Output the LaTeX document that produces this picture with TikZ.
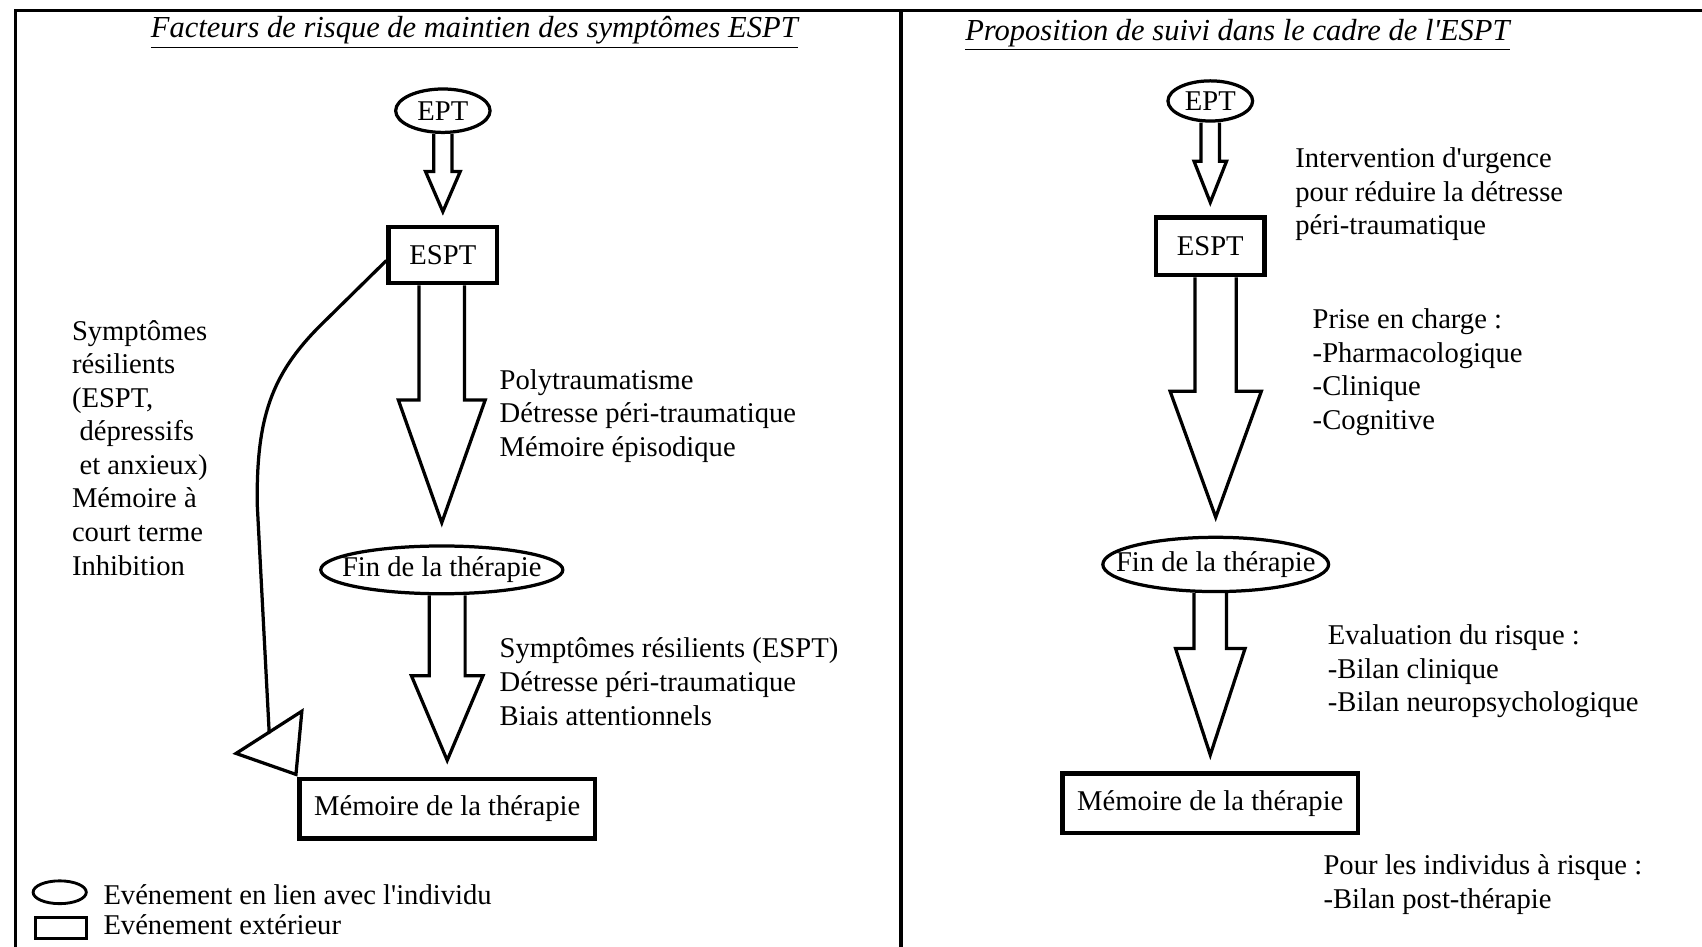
\documentclass[tikz,border=0pt]{standalone}
\usepackage{fontspec}
\setmainfont{Liberation Serif}
\usetikzlibrary{arrows.meta, positioning, shapes.geometric, calc}

% hollow block arrow: source, tip, shaft half width, head half width, head length
\newcommand{\blockarrow}[5]{%
	\draw[blockline] let \p1=(#1), \p2=(#2) in
		(\x2-#3,\y1) -- (\x2-#3,\y2+#5) -- (\x2-#4,\y2+#5) -- (\x2,\y2)
		-- (\x2+#4,\y2+#5) -- (\x2+#3,\y2+#5) -- (\x2+#3,\y1);
}

\begin{document}
\begin{tikzpicture}[
				font=\fontsize{15}{17.6}\selectfont,
				event/.style={ellipse, draw, line width=1.7pt, inner sep=-1cm},
				outerbox/.style={rectangle, draw, line width=2.3pt, inner sep=0pt},
				blockline/.style={line width=1.7pt, line join=miter},
				feedback/.style={line width=1.7pt, line join=round},
				frameline/.style={line width=1.7pt},
				factor/.style={anchor=west, align=left, inner sep=0pt},
				heading/.style={font=\fontsize{16}{19}\selectfont\itshape, inner sep=0pt}
			]
			\useasboundingbox (0,0) rectangle (31.36,-17.44);

			% Frame
			\draw[frameline] (0.28,-17.44) |- (31.36,-0.2);
			\draw[frameline] (16.6,-0.2) -- (16.6,-17.44);

			% Left panel
			\node[heading] (titleL) at (8.74,-0.6) {\underline{Facteurs de risque de maintien des symptômes ESPT}};

			\node[event, minimum width=1.74cm, minimum height=0.8cm] (eptL) at (8.16,-2.04) {EPT};
			\node[outerbox, minimum width=2.0cm, minimum height=1.04cm] (esptL) at (8.16,-4.7) {ESPT};
			\node[event, minimum width=4.46cm, minimum height=0.88cm] (finL) at (8.14,-10.5) {Fin de la thérapie};
			\node[outerbox, minimum width=5.44cm, minimum height=1.1cm] (memL) at (8.24,-14.9) {Mémoire de la thérapie};

			\blockarrow{eptL.south}{[yshift=0.24cm]esptL.north}{0.17cm}{0.32cm}{0.74cm}
			\blockarrow{esptL.south}{[yshift=0.4cm]finL.north}{0.42cm}{0.8cm}{2.26cm}
			\blockarrow{finL.south}{[yshift=0.3cm]memL.north}{0.33cm}{0.66cm}{1.56cm}

			\draw[feedback, -{Triangle[open, length=1.0cm, width=1.55cm]}]
				([yshift=-0.1cm]esptL.west) -- (5.9,-6.0)
				.. controls (5.0,-6.9) and (4.72,-7.7) .. (4.74,-9.3)
				-- (4.96,-13.5) -- (memL.north west);

			\node[factor] (riskA) at (9.2,-7.66) {Polytraumatisme\\Détresse péri-traumatique\\Mémoire épisodique};
			\node[factor] (riskB) at (9.2,-12.56) {Symptômes résilients (ESPT)\\Détresse péri-traumatique\\Biais attentionnels};
			\node[factor] (riskC) at (1.32,-8.25) {Symptômes\\résilients\\(ESPT,\\\hspace*{4pt}dépressifs\\\hspace*{4pt}et anxieux)\\Mémoire à\\court terme\\Inhibition};

			% Legend
			\node[event, line width=1.5pt, minimum width=0.98cm, minimum height=0.42cm] (keyEvent) at (1.1,-16.44) {};
			\node[outerbox, line width=1.8pt, minimum width=0.94cm, minimum height=0.38cm] (keyExt) at (1.12,-17.1) {};
			\node[factor] at (1.9,-16.48) {Evénement en lien avec l\textquotesingle individu};
			\node[factor] at (1.9,-17.04) {Evénement extérieur};

			% Right panel
			\node[heading] (titleR) at (22.8,-0.64) {\underline{Proposition de suivi dans le cadre de l\textquotesingle ESPT}};

			\node[event, minimum width=1.56cm, minimum height=0.74cm] (eptR) at (22.3,-1.86) {EPT};
			\node[outerbox, minimum width=2.0cm, minimum height=1.06cm] (esptR) at (22.3,-4.54) {ESPT};
			\node[event, minimum width=4.16cm, minimum height=1.0cm] (finR) at (22.4,-10.4) {Fin de la thérapie};
			\node[outerbox, minimum width=5.44cm, minimum height=1.1cm] (memR) at (22.3,-14.8) {Mémoire de la thérapie};

			\blockarrow{eptR.south}{[yshift=0.24cm]esptR.north}{0.17cm}{0.3cm}{0.76cm}
			\blockarrow{esptR.south}{[yshift=0.34cm]finR.north}{0.38cm}{0.84cm}{2.32cm}
			\blockarrow{finR.south}{[yshift=0.3cm]memR.north}{0.3cm}{0.64cm}{1.96cm}

			\node[factor] (careA) at (23.86,-3.58) {Intervention d\textquotesingle urgence\\pour réduire la détresse\\péri-traumatique};
			\node[factor] (careB) at (24.18,-6.86) {Prise en charge :\\-Pharmacologique\\-Clinique\\-Cognitive};
			\node[factor] (careC) at (24.46,-12.37) {Evaluation du risque :\\-Bilan clinique\\-Bilan neuropsychologique};
			\node[factor] (careD) at (24.38,-16.3) {Pour les individus à risque :\\-Bilan post-thérapie};
		\end{tikzpicture}
\end{document}
